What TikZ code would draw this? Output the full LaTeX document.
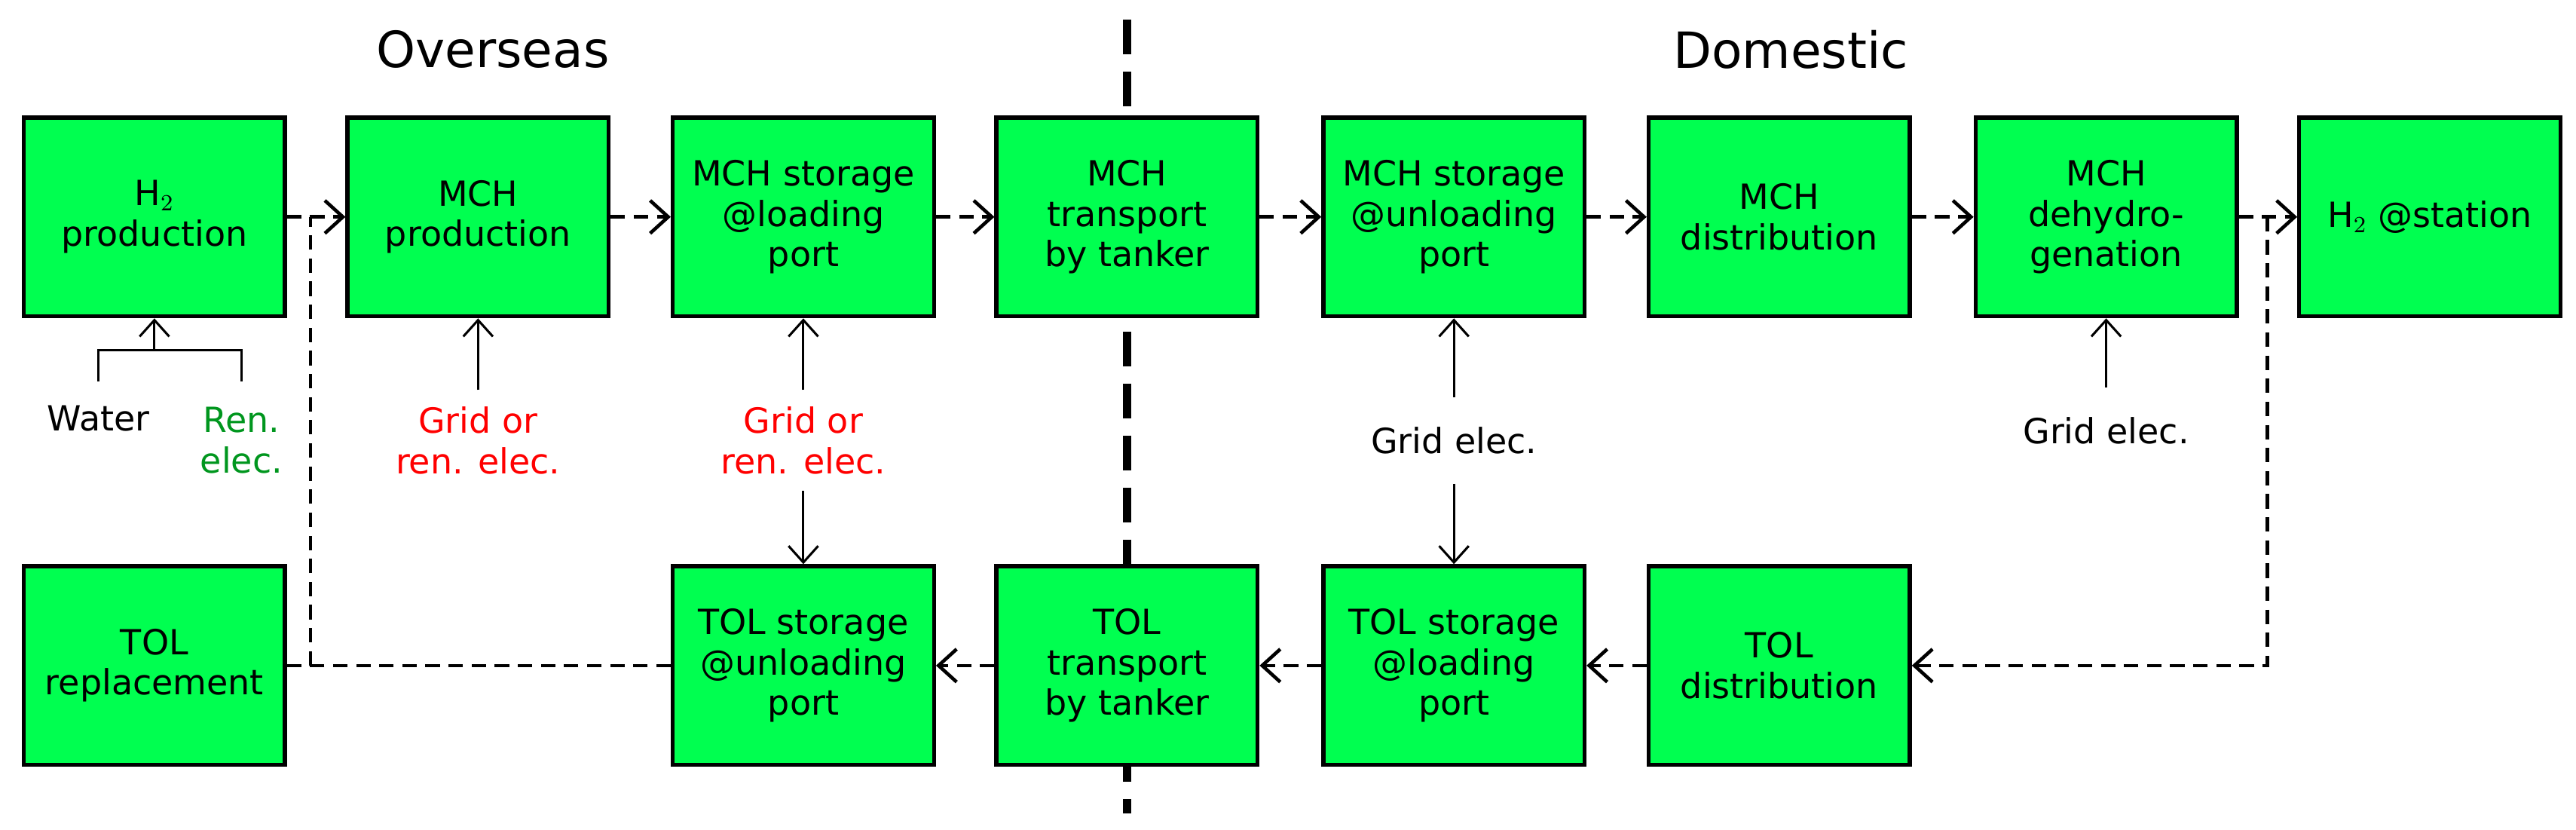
\documentclass[tikz,border=0pt]{standalone}
\usepackage{fontspec}
\setmainfont{DejaVu Sans}
\usetikzlibrary{arrows.meta}
\usetikzlibrary{positioning}
\definecolor{boxgreen}{RGB}{0,255,80}
\definecolor{rengreen}{RGB}{0,150,30}
\begin{document}
\begin{tikzpicture}[
			x=0.02cm, y=-0.02cm,
			box/.style={rectangle, draw, line width=1.4pt, fill=boxgreen, minimum width=3.18cm, minimum height=2.42cm, align=center, inner sep=1pt, font=\large},
			lab/.style={align=center, font=\large},
			flow/.style={dashed, line width=1.2pt, dash pattern=on 5pt off 3pt, -{Straight Barb[length=2.2mm, width=4mm]}},
			flowline/.style={dashed, line width=1.2pt, dash pattern=on 5pt off 3pt},
			feed/.style={line width=0.8pt, -{Straight Barb[length=2mm, width=3.6mm]}}
		]
		\useasboundingbox (0,0) rectangle (1568,505);

		% --- Border between regions ---
		\draw[line width=3pt, dash pattern=on 12pt off 6pt] (686,12) -- (686,495);
		\node[lab, font=\LARGE] (overseas) at (300,30) {Overseas};
		\node[lab, font=\LARGE] (domestic) at (1090,30) {Domestic};

		% --- Upper chain ---
		\node[box] (h2p) at (94,132) {H$_2$\\production};
		\node[box] (mchp) at (291,132) {MCH\\production};
		\node[box] (mchsl) at (489,132) {MCH storage\\@loading\\port};
		\node[box] (mcht) at (686,132) {MCH\\transport\\by tanker};
		\node[box] (mchsu) at (885,132) {MCH storage\\@unloading\\port};
		\node[box] (mchd) at (1083,132) {MCH\\distribution};
		\node[box] (mchdh) at (1282,132) {MCH\\dehydro-\\genation};
		\node[box] (h2s) at (1479,132) {H$_2$ @station};

		% --- Lower chain ---
		\node[box] (tolr) at (94,405) {TOL\\replacement};
		\node[box] (tolsu) at (489,405) {TOL storage\\@unloading\\port};
		\node[box] (tolt) at (686,405) {TOL\\transport\\by tanker};
		\node[box] (tolsl) at (885,405) {TOL storage\\@loading\\port};
		\node[box] (told) at (1083,405) {TOL\\distribution};

		% --- Upper arrows ---
		\foreach \a/\b in {h2p/mchp, mchp/mchsl, mchsl/mcht, mcht/mchsu, mchsu/mchd, mchd/mchdh, mchdh/h2s}
		\draw[flow] (\a) -- (\b);

		% --- Lower arrows ---
		\foreach \a/\b in {told/tolsl, tolsl/tolt, tolt/tolsu}
		\draw[flow] (\a) -- (\b);

		% --- Return loops ---
		\coordinate (jl) at (189,132);
		\coordinate (jr) at (1380,132);
		\draw[flowline] (tolsu.west) -- (tolr.east);
		\draw[flowline] (189,405) -- (jl);
		\draw[flow] (jr) |- (told.east);

		% --- Inputs ---
		\node[lab, anchor=base] (water) at (60,262) {Water};
		\node[lab, text=rengreen] (renel) at (147,268) {Ren.\\elec.};
		\draw[line width=0.8pt] (60,232) -- (60,213) -- (147,213) -- (147,232);
		\draw[feed] (94,213) -- (h2p.south);

		\node[lab, text=red] (gr1) at (291,268) {Grid or\\ren. elec.};
		\draw[feed] (gr1.north) ++(0,-4) -- (mchp.south);
		\node[lab, text=red] (gr2) at (489,268) {Grid or\\ren. elec.};
		\draw[feed] (gr2.north) ++(0,-4) -- (mchsl.south);
		\draw[feed] (gr2.south) ++(0,4) -- (tolsu.north);

		\node[lab] (ge1) at (885,268) {Grid elec.};
		\draw[feed] (ge1.north) ++(0,-12) -- (mchsu.south);
		\draw[feed] (ge1.south) ++(0,12) -- (tolsl.north);
		\node[lab] (ge2) at (1282,262) {Grid elec.};
		\draw[feed] (ge2.north) ++(0,-12) -- (mchdh.south);

	\end{tikzpicture}
\end{document}
